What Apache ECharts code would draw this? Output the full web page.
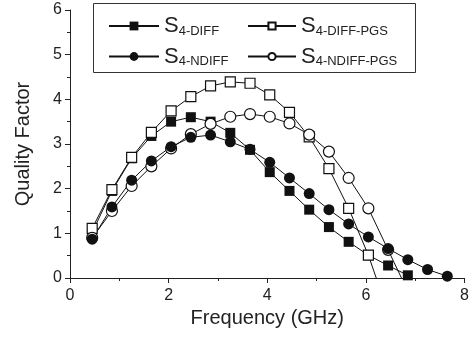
<!DOCTYPE html>
<html>
<head>
<meta charset="utf-8">
<script src="https://cdn.jsdelivr.net/npm/echarts@6/dist/echarts.min.js"></script>
<style>html,body{margin:0;padding:0;background:#fff}#c{width:472px;height:340px}</style>
</head>
<body>
<div id="c"></div>
<script>
var freqs = [0.45,0.85,1.25,1.65,2.05,2.45,2.85,3.25,3.65,4.05,4.45,4.85,5.25,5.65,6.05,6.45,6.85,7.25,7.65];
var diff = [1.02,1.95,2.68,3.18,3.50,3.60,3.50,3.25,2.87,2.37,1.95,1.53,1.14,0.81,0.51,0.28,0.06];
var diffPgs = [1.11,1.98,2.70,3.26,3.74,4.06,4.30,4.39,4.36,4.10,3.71,3.16,2.45,1.56,0.51,-0.77];
var ndiff = [0.87,1.59,2.19,2.62,2.94,3.15,3.20,3.05,2.88,2.59,2.24,1.89,1.53,1.21,0.92,0.66,0.41,0.19,0.04];
var ndiffPgs = [0.90,1.50,2.06,2.50,2.90,3.22,3.45,3.61,3.67,3.61,3.46,3.21,2.83,2.24,1.56,0.63,-0.30];
var xTicks = [0,2,4,6,8];
var yTicks = [0,1,2,3,4,5,6];
var names = {diff:'S4-DIFF', diffPgs:'S4-DIFF-PGS', ndiff:'S4-NDIFF', ndiffPgs:'S4-NDIFF-PGS'};

function pairs(v){ return v.map(function(y,i){ return [freqs[i], y]; }); }

var font = 'Liberation Sans, Arial, sans-serif';
var chart = echarts.init(document.getElementById('c'), null, {renderer:'canvas'});
function mk(name, data, symbol, filled, size){
  return {
    name:name, type:'line', data:pairs(data), symbol:symbol, symbolSize:size,
    clip:true, showAllSymbols:true,
    lineStyle:{color:'#111', width:1},
    itemStyle:{color: filled ? '#111' : '#fff', borderColor:'#111', borderWidth: filled ? 0 : 1.2},
    emphasis:{disabled:true}, animation:false
  };
}
var legendText = {
  color:'#222', fontFamily:font,
  rich:{ s:{fontSize:22, fontFamily:font, color:'#222'},
         sub:{fontSize:13, fontFamily:font, color:'#222', padding:[10,0,0,0]} }
};
function fmt(n){ return '{s|S}{sub|' + n.substring(1) + '}'; }
var option = {
  animation:false,
  grid:{left:70, right:7, top:10, bottom:62},
  xAxis:{
    type:'value', min:0, max:8, interval:2,
    name:'Frequency (GHz)', nameLocation:'middle', nameGap:28,
    nameTextStyle:{fontSize:20, fontFamily:font, color:'#222'},
    axisLine:{lineStyle:{color:'#222', width:1}},
    axisTick:{show:true, inside:false, length:5, lineStyle:{color:'#222'}},
    minorTick:{show:true, splitNumber:2, length:3, lineStyle:{color:'#222'}},
    splitLine:{show:false},
    axisLabel:{fontSize:16, fontFamily:font, color:'#222', margin:10,
      formatter:function(v){ return xTicks.indexOf(v) >= 0 ? String(v) : ''; }}
  },
  yAxis:{
    type:'value', min:0, max:6, interval:1,
    name:'Quality Factor', nameLocation:'middle', nameGap:37,
    nameTextStyle:{fontSize:20, fontFamily:font, color:'#222'},
    axisLine:{show:true, lineStyle:{color:'#222', width:1}},
    axisTick:{show:true, inside:false, length:5, lineStyle:{color:'#222'}},
    minorTick:{show:true, splitNumber:2, length:3, lineStyle:{color:'#222'}},
    splitLine:{show:false},
    axisLabel:{fontSize:16, fontFamily:font, color:'#222', margin:8,
      formatter:function(v){ return yTicks.indexOf(v) >= 0 ? String(v) : ''; }}
  },
  legend:[
    {orient:'vertical', left:103, top:10, itemWidth:50, itemHeight:11, itemGap:8,
     data:[names.diff, names.ndiff], formatter:fmt, textStyle:legendText, selectedMode:false},
    {orient:'vertical', left:242, top:10, itemWidth:48, itemHeight:9, itemGap:8,
     data:[names.diffPgs, names.ndiffPgs], formatter:fmt, textStyle:legendText, selectedMode:false}
  ],
  graphic:[{type:'rect', left:93, top:3, shape:{width:322, height:69},
    style:{fill:'#fff', stroke:'#333', lineWidth:1}, z:-1, silent:true}],
  series:[
    mk(names.diff, diff, 'rect', true, 10),
    mk(names.diffPgs, diffPgs, 'rect', false, 10),
    mk(names.ndiffPgs, ndiffPgs, 'circle', false, 11),
    mk(names.ndiff, ndiff, 'circle', true, 11)
  ]
};
chart.setOption(option);
</script>
</body>
</html>
